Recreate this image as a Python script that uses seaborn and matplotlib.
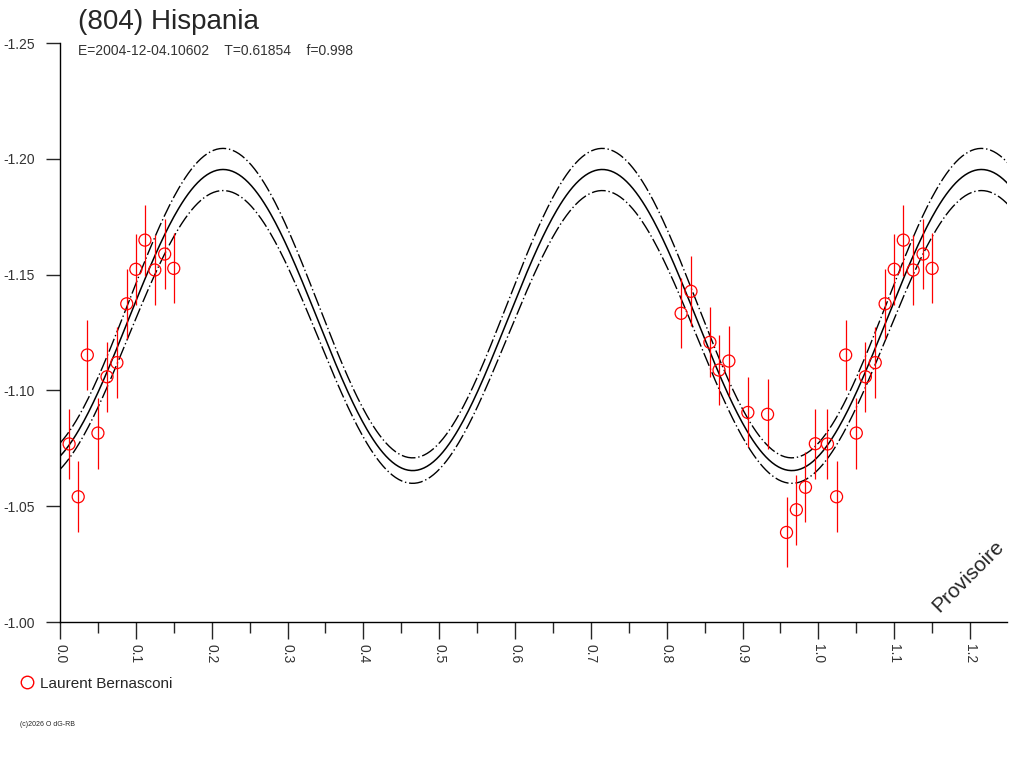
import numpy as np
import pandas as pd
import matplotlib
matplotlib.use("Agg")
import matplotlib.pyplot as plt
from matplotlib.lines import Line2D
import seaborn as sns

# observed phases / reduced magnitudes (Laurent Bernasconi)
phase = [0.012, 0.024, 0.036, 0.050, 0.062, 0.075, 0.088, 0.100, 0.112, 0.125, 0.138, 0.150,
         0.819, 0.832, 0.857, 0.869, 0.882, 0.907, 0.933, 0.958, 0.971, 0.983, 0.996]
mag = [-1.0769, -1.0541, -1.1153, -1.0816, -1.1059, -1.1120, -1.1374, -1.1523, -1.1649, -1.1520, -1.1589, -1.1527,
       -1.1333, -1.1428, -1.1208, -1.1088, -1.1127, -1.0905, -1.0897, -1.0387, -1.0485, -1.0582, -1.0770]
err = [0.0151, 0.0153, 0.0153, 0.0153, 0.0151, 0.0153, 0.0151, 0.0153, 0.0153, 0.0151, 0.0153, 0.0151,
       0.0151, 0.0151, 0.0151, 0.0151, 0.0151, 0.0151, 0.0151, 0.0151, 0.0151, 0.0151, 0.0151]

# fitted curve parameters (mean, amplitude, phase of maximum) and envelope
fit_mean, fit_amp, fit_max = -1.1304, 0.0650, 0.215
env_shift, env_amp = 0.0073, 0.0018

sns.set_style("white")
plt.rcParams["font.family"] = ["Liberation Sans", "DejaVu Sans"]

df = pd.DataFrame({"phase": phase, "mag": mag, "err": err})
rep = df[df["phase"] < 0.25].copy()
rep["phase"] += 1.0
df = pd.concat([df, rep], ignore_index=True)

x = np.linspace(0, 1.25, 600)
cw = np.cos(4 * np.pi * (x - fit_max))
main = fit_mean - fit_amp * cw
upper = fit_mean - env_shift - (fit_amp + env_amp) * cw
lower = fit_mean + env_shift - (fit_amp - env_amp) * cw

fig = plt.figure(figsize=(10.24, 7.68), dpi=100)
ax = fig.add_axes([0.0586, 0.190, 0.925, 0.754])

sns.lineplot(x=x, y=main, ax=ax, color="black", linewidth=1.1)
sns.lineplot(x=x, y=upper, ax=ax, color="black", linewidth=1.0)
sns.lineplot(x=x, y=lower, ax=ax, color="black", linewidth=1.0)
ax.lines[1].set_linestyle((0, (10, 2, 1, 2)))
ax.lines[2].set_linestyle((0, (10, 2, 1, 2)))

ax.vlines(df["phase"], df["mag"] - df["err"], df["mag"] + df["err"], color="red", linewidth=0.9)
sns.scatterplot(data=df, x="phase", y="mag", ax=ax, s=75, marker="o",
                facecolor="none", edgecolor="red", linewidth=0.9, zorder=5)

ax.set_xlim(0, 1.249)
ax.set_ylim(-1.00, -1.25)
ax.set_xticks(np.arange(0, 1.21, 0.1))
ax.set_xticks(np.arange(0.05, 1.25, 0.1), minor=True)
ax.set_xticklabels([f"{v:.1f}" for v in np.arange(0, 1.21, 0.1)], rotation=-90, fontsize=10, color="#333333")
ax.set_yticks(np.arange(-1.25, -0.999, 0.05))
ax.set_yticklabels([f"{v:.2f}" for v in np.arange(-1.25, -0.999, 0.05)], fontsize=10, color="#333333")
ax.tick_params(axis="x", which="major", length=12, width=1, direction="out", bottom=True)
ax.tick_params(axis="x", which="minor", length=8, width=1, direction="out", bottom=True)
ax.tick_params(axis="y", length=10, width=1, direction="out", left=True, pad=8)
ax.set_xlabel("")
ax.set_ylabel("")
for s in ["top", "right"]:
    ax.spines[s].set_visible(False)
for s in ["left", "bottom"]:
    ax.spines[s].set_color("black")
    ax.spines[s].set_linewidth(1.0)

fig.text(0.076, 0.955, "(804) Hispania", fontsize=20, va="bottom")
fig.text(0.076, 0.928, "E=2004-12-04.10602    T=0.61854    f=0.998", fontsize=10, color="#333333")
ax.text(1.0, 0.01, "Provisoire", transform=ax.transAxes, rotation=45,
        fontsize=15, ha="right", va="bottom")

fig.legend(handles=[Line2D([], [], marker="o", linestyle="none", markerfacecolor="none",
                           markeredgecolor="red", markersize=9)],
           labels=["Laurent Bernasconi"], loc="center left", bbox_to_anchor=(0.008, 0.110),
           frameon=False, fontsize=11, handletextpad=0.1, borderpad=0, handlelength=1.5)
fig.text(0.020, 0.056, "(c)2026 O dG-RB", fontsize=5, va="center")

fig.savefig("out.png", dpi=100)
